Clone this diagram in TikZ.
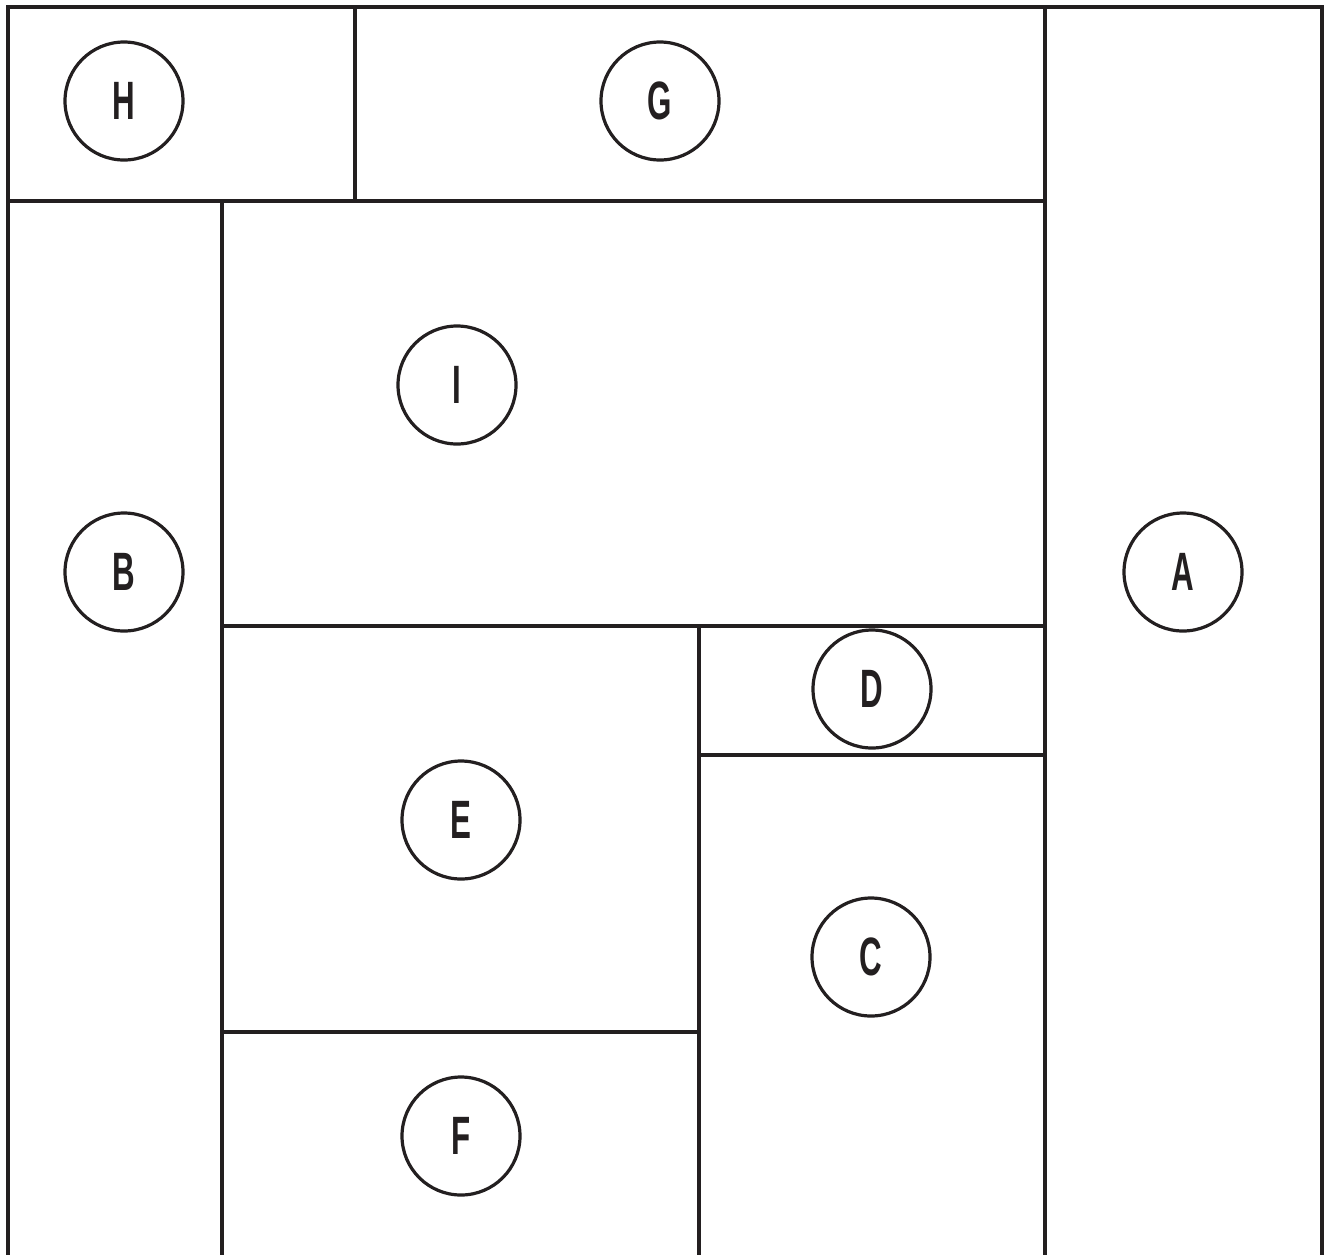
\documentclass[tikz,border=0pt]{standalone}
\usepackage{fontspec}
\setmainfont{Liberation Sans}
\definecolor{ink}{HTML}{231F20}
\begin{document}
\begin{tikzpicture}[x=1pt,y=-1pt,
  wall/.style={draw=ink,line width=4pt},
  room/.style={circle,draw=ink,line width=3.2pt,minimum size=118pt,inner sep=0pt,
    font=\fontsize{54}{54}\selectfont\bfseries,text=ink},
]
\useasboundingbox (0,0) rectangle (1329,1254);
\fill[white] (0,0) rectangle (1329,1254);
% walls
\draw[wall] (8,1262) -- (8,7) -- (1322,7) -- (1322,1262);
\draw[wall] (355,7) -- (355,201);
\draw[wall] (8,201) -- (1045,201);
\draw[wall] (1045,7) -- (1045,1262);
\draw[wall] (222,201) -- (222,1262);
\draw[wall] (222,626) -- (1045,626);
\draw[wall] (699,626) -- (699,1262);
\draw[wall] (699,755) -- (1045,755);
\draw[wall] (222,1032) -- (699,1032);
% rooms
\newcommand{\lbl}[1]{\scalebox{0.58}[1]{#1}}
\node[room] (H) at (124,101) {\lbl{H}};
\node[room] (G) at (660,101) {\lbl{G}};
\node[room] (I) at (457,385) {\lbl{I}};
\node[room] (B) at (124,572) {\lbl{B}};
\node[room] (A) at (1183,572) {\lbl{A}};
\node[room] (D) at (872,689) {\lbl{D}};
\node[room] (E) at (461,820) {\lbl{E}};
\node[room] (C) at (871,957) {\lbl{C}};
\node[room] (F) at (461,1136) {\lbl{F}};
\end{tikzpicture}
\end{document}
